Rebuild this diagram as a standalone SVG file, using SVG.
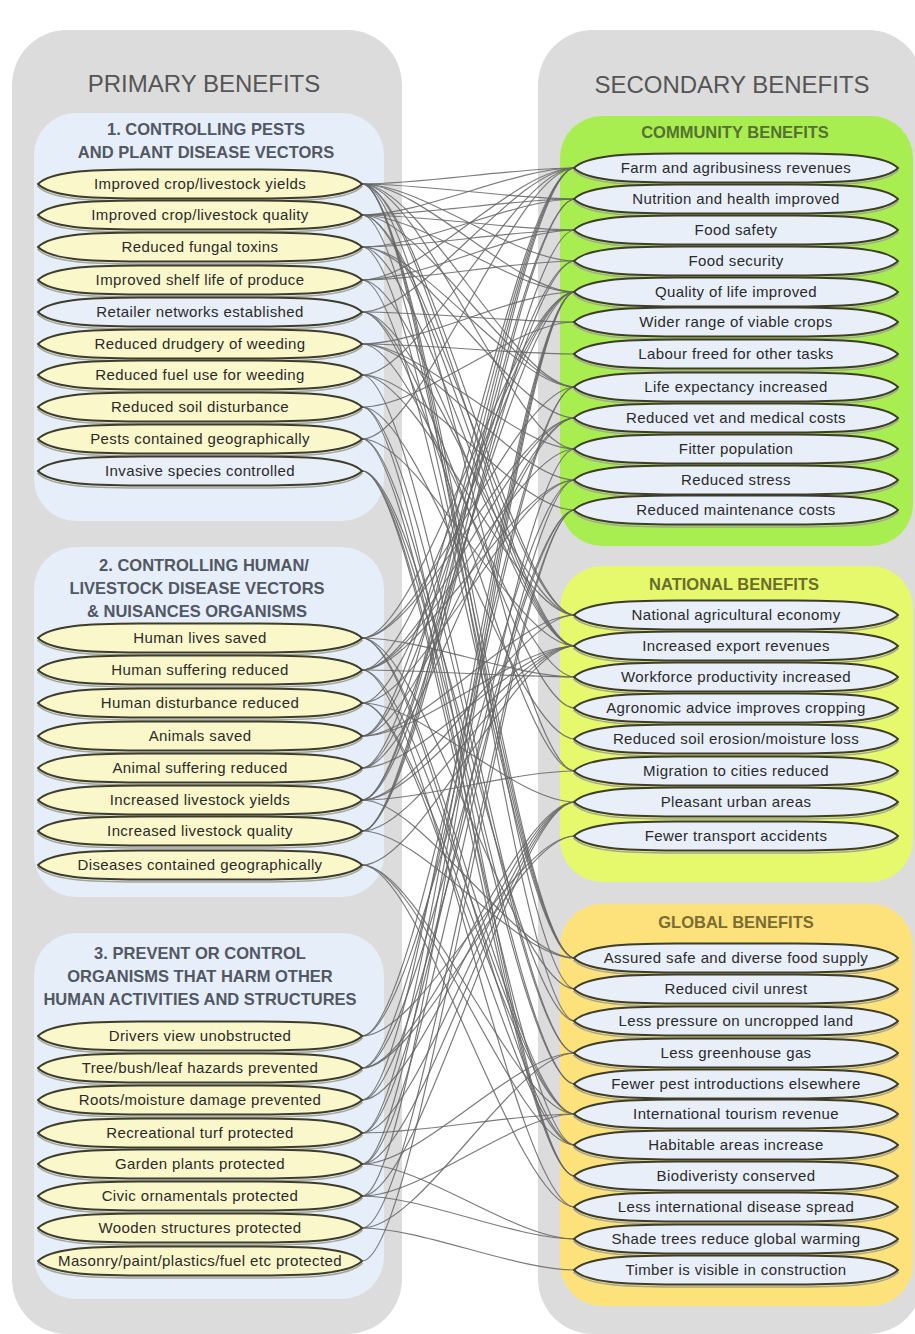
<svg xmlns="http://www.w3.org/2000/svg" xmlns:xlink="http://www.w3.org/1999/xlink" width="915" height="1334" viewBox="0 0 915 1334">
<style>
.hd{font-family:"Liberation Sans",Arial,sans-serif;font-size:24px;fill:#555555;text-anchor:middle}
.sh1{font-family:"Liberation Sans",Arial,sans-serif;font-size:16.5px;font-weight:bold;fill:#525762;text-anchor:middle}
.shc{font-family:"Liberation Sans",Arial,sans-serif;font-size:16.5px;font-weight:bold;fill:#56712f;text-anchor:middle}
.shn{font-family:"Liberation Sans",Arial,sans-serif;font-size:16.5px;font-weight:bold;fill:#6a6e2c;text-anchor:middle}
.shg{font-family:"Liberation Sans",Arial,sans-serif;font-size:16.5px;font-weight:bold;fill:#7a6c34;text-anchor:middle}
.t{font-family:"Liberation Sans",Arial,sans-serif;font-size:15px;letter-spacing:0.4px;fill:#2a2a2a;text-anchor:middle}
.nl{fill:#faf8ca;stroke:#3d3d2a;stroke-width:1.8}
.nr{fill:#e8eff9;stroke:#3d3d2a;stroke-width:1.8}
.sd{fill:none;stroke:#a5a596;stroke-width:1.6}
.c{fill:none;stroke:#646464;stroke-width:1.2;stroke-opacity:0.85}
</style>
<defs>
<path id="lens" d="M-162,0 C-150,-12 -115,-14.5 -60,-14.5 L60,-14.5 C115,-14.5 150,-12 162,0 C150,12 115,14.5 60,14.5 L-60,14.5 C-115,14.5 -150,12 -162,0 Z"/>
</defs>
<rect width="915" height="1334" fill="#ffffff"/>
<g id="panels">
<rect x="12" y="30" width="390" height="1304" rx="55" fill="#dcdcdc"/>
<rect x="538" y="30" width="385" height="1304" rx="55" fill="#dcdcdc"/>
<rect x="34" y="113" width="350" height="408" rx="42" fill="#e5eef9"/>
<rect x="34" y="547" width="350" height="350" rx="42" fill="#e5eef9"/>
<rect x="34" y="933" width="350" height="366" rx="42" fill="#e5eef9"/>
<rect x="560" y="116" width="353" height="430" rx="42" fill="#a9ee50"/>
<rect x="560" y="566" width="353" height="316" rx="42" fill="#e6f86c"/>
<rect x="560" y="904" width="353" height="402" rx="42" fill="#fde27c"/>
</g>
<g id="headers">
<text class="hd" x="204" y="92">PRIMARY BENEFITS</text>
<text class="hd" x="732" y="93">SECONDARY BENEFITS</text>
<text class="sh1" x="206" y="135">1. CONTROLLING PESTS</text>
<text class="sh1" x="206" y="158">AND PLANT DISEASE VECTORS</text>
<text class="sh1" x="204" y="571">2. CONTROLLING HUMAN/</text>
<text class="sh1" x="197" y="594">LIVESTOCK DISEASE VECTORS</text>
<text class="sh1" x="197" y="617">&amp; NUISANCES ORGANISMS</text>
<text class="sh1" x="200" y="959">3. PREVENT OR CONTROL</text>
<text class="sh1" x="200" y="982">ORGANISMS THAT HARM OTHER</text>
<text class="sh1" x="200" y="1005">HUMAN ACTIVITIES AND STRUCTURES</text>
<text class="shc" x="735" y="138">COMMUNITY BENEFITS</text>
<text class="shn" x="734" y="590">NATIONAL BENEFITS</text>
<text class="shg" x="736" y="928">GLOBAL BENEFITS</text>
</g>
<g id="connectors">
<path class="c" d="M362,184 C422,184 515,168 575,168"/>
<path class="c" d="M362,184 C422,184 515,199 575,199"/>
<path class="c" d="M362,184 C422,184 515,261 575,261"/>
<path class="c" d="M362,184 C422,184 515,292 575,292"/>
<path class="c" d="M362,184 C422,184 515,387 575,387"/>
<path class="c" d="M362,184 C422,184 515,615 575,615"/>
<path class="c" d="M362,184 C422,184 515,646 575,646"/>
<path class="c" d="M362,184 C422,184 515,958 575,958"/>
<path class="c" d="M362,184 C422,184 515,1021 575,1021"/>
<path class="c" d="M362,184 C422,184 515,989 575,989"/>
<path class="c" d="M362,184 C422,184 515,771 575,771"/>
<path class="c" d="M362,184 C422,184 515,449 575,449"/>
<path class="c" d="M362,215 C422,215 515,168 575,168"/>
<path class="c" d="M362,215 C422,215 515,199 575,199"/>
<path class="c" d="M362,215 C422,215 515,230 575,230"/>
<path class="c" d="M362,215 C422,215 515,646 575,646"/>
<path class="c" d="M362,215 C422,215 515,615 575,615"/>
<path class="c" d="M362,215 C422,215 515,958 575,958"/>
<path class="c" d="M362,215 C422,215 515,292 575,292"/>
<path class="c" d="M362,215 C422,215 515,387 575,387"/>
<path class="c" d="M362,247 C422,247 515,230 575,230"/>
<path class="c" d="M362,247 C422,247 515,199 575,199"/>
<path class="c" d="M362,247 C422,247 515,387 575,387"/>
<path class="c" d="M362,247 C422,247 515,418 575,418"/>
<path class="c" d="M362,247 C422,247 515,646 575,646"/>
<path class="c" d="M362,247 C422,247 515,958 575,958"/>
<path class="c" d="M362,280 C422,280 515,168 575,168"/>
<path class="c" d="M362,280 C422,280 515,261 575,261"/>
<path class="c" d="M362,280 C422,280 515,646 575,646"/>
<path class="c" d="M362,280 C422,280 515,958 575,958"/>
<path class="c" d="M362,280 C422,280 515,230 575,230"/>
<path class="c" d="M362,312 C422,312 515,168 575,168"/>
<path class="c" d="M362,312 C422,312 515,322 575,322"/>
<path class="c" d="M362,312 C422,312 515,615 575,615"/>
<path class="c" d="M362,312 C422,312 515,708 575,708"/>
<path class="c" d="M362,312 C422,312 515,771 575,771"/>
<path class="c" d="M362,344 C422,344 515,354 575,354"/>
<path class="c" d="M362,344 C422,344 515,292 575,292"/>
<path class="c" d="M362,344 C422,344 515,480 575,480"/>
<path class="c" d="M362,344 C422,344 515,677 575,677"/>
<path class="c" d="M362,344 C422,344 515,449 575,449"/>
<path class="c" d="M362,375 C422,375 515,168 575,168"/>
<path class="c" d="M362,375 C422,375 515,510 575,510"/>
<path class="c" d="M362,375 C422,375 515,1053 575,1053"/>
<path class="c" d="M362,375 C422,375 515,615 575,615"/>
<path class="c" d="M362,407 C422,407 515,739 575,739"/>
<path class="c" d="M362,407 C422,407 515,1053 575,1053"/>
<path class="c" d="M362,407 C422,407 515,1176 575,1176"/>
<path class="c" d="M362,407 C422,407 515,322 575,322"/>
<path class="c" d="M362,439 C422,439 515,1084 575,1084"/>
<path class="c" d="M362,439 C422,439 515,646 575,646"/>
<path class="c" d="M362,439 C422,439 515,1176 575,1176"/>
<path class="c" d="M362,439 C422,439 515,168 575,168"/>
<path class="c" d="M362,471 C422,471 515,1176 575,1176"/>
<path class="c" d="M362,471 C422,471 515,1084 575,1084"/>
<path class="c" d="M362,471 C422,471 515,1145 575,1145"/>
<path class="c" d="M362,471 C422,471 515,1021 575,1021"/>
<path class="c" d="M362,638 C422,638 515,387 575,387"/>
<path class="c" d="M362,638 C422,638 515,292 575,292"/>
<path class="c" d="M362,638 C422,638 515,677 575,677"/>
<path class="c" d="M362,638 C422,638 515,1114 575,1114"/>
<path class="c" d="M362,638 C422,638 515,989 575,989"/>
<path class="c" d="M362,638 C422,638 515,1145 575,1145"/>
<path class="c" d="M362,638 C422,638 515,418 575,418"/>
<path class="c" d="M362,670 C422,670 515,292 575,292"/>
<path class="c" d="M362,670 C422,670 515,418 575,418"/>
<path class="c" d="M362,670 C422,670 515,449 575,449"/>
<path class="c" d="M362,670 C422,670 515,480 575,480"/>
<path class="c" d="M362,670 C422,670 515,677 575,677"/>
<path class="c" d="M362,670 C422,670 515,1114 575,1114"/>
<path class="c" d="M362,670 C422,670 515,1207 575,1207"/>
<path class="c" d="M362,703 C422,703 515,292 575,292"/>
<path class="c" d="M362,703 C422,703 515,480 575,480"/>
<path class="c" d="M362,703 C422,703 515,1114 575,1114"/>
<path class="c" d="M362,703 C422,703 515,802 575,802"/>
<path class="c" d="M362,703 C422,703 515,1145 575,1145"/>
<path class="c" d="M362,736 C422,736 515,168 575,168"/>
<path class="c" d="M362,736 C422,736 515,261 575,261"/>
<path class="c" d="M362,736 C422,736 515,615 575,615"/>
<path class="c" d="M362,736 C422,736 515,418 575,418"/>
<path class="c" d="M362,736 C422,736 515,646 575,646"/>
<path class="c" d="M362,768 C422,768 515,418 575,418"/>
<path class="c" d="M362,768 C422,768 515,168 575,168"/>
<path class="c" d="M362,768 C422,768 515,292 575,292"/>
<path class="c" d="M362,768 C422,768 515,646 575,646"/>
<path class="c" d="M362,800 C422,800 515,168 575,168"/>
<path class="c" d="M362,800 C422,800 515,199 575,199"/>
<path class="c" d="M362,800 C422,800 515,261 575,261"/>
<path class="c" d="M362,800 C422,800 515,615 575,615"/>
<path class="c" d="M362,800 C422,800 515,646 575,646"/>
<path class="c" d="M362,800 C422,800 515,958 575,958"/>
<path class="c" d="M362,800 C422,800 515,771 575,771"/>
<path class="c" d="M362,831 C422,831 515,168 575,168"/>
<path class="c" d="M362,831 C422,831 515,199 575,199"/>
<path class="c" d="M362,831 C422,831 515,230 575,230"/>
<path class="c" d="M362,831 C422,831 515,646 575,646"/>
<path class="c" d="M362,831 C422,831 515,958 575,958"/>
<path class="c" d="M362,865 C422,865 515,1207 575,1207"/>
<path class="c" d="M362,865 C422,865 515,646 575,646"/>
<path class="c" d="M362,865 C422,865 515,1114 575,1114"/>
<path class="c" d="M362,865 C422,865 515,1145 575,1145"/>
<path class="c" d="M362,1036 C422,1036 515,836 575,836"/>
<path class="c" d="M362,1036 C422,1036 515,480 575,480"/>
<path class="c" d="M362,1036 C422,1036 515,387 575,387"/>
<path class="c" d="M362,1068 C422,1068 515,836 575,836"/>
<path class="c" d="M362,1068 C422,1068 515,510 575,510"/>
<path class="c" d="M362,1068 C422,1068 515,802 575,802"/>
<path class="c" d="M362,1068 C422,1068 515,387 575,387"/>
<path class="c" d="M362,1100 C422,1100 515,510 575,510"/>
<path class="c" d="M362,1100 C422,1100 515,802 575,802"/>
<path class="c" d="M362,1100 C422,1100 515,292 575,292"/>
<path class="c" d="M362,1133 C422,1133 515,292 575,292"/>
<path class="c" d="M362,1133 C422,1133 515,449 575,449"/>
<path class="c" d="M362,1133 C422,1133 515,802 575,802"/>
<path class="c" d="M362,1133 C422,1133 515,1114 575,1114"/>
<path class="c" d="M362,1164 C422,1164 515,292 575,292"/>
<path class="c" d="M362,1164 C422,1164 515,802 575,802"/>
<path class="c" d="M362,1164 C422,1164 515,480 575,480"/>
<path class="c" d="M362,1164 C422,1164 515,1239 575,1239"/>
<path class="c" d="M362,1164 C422,1164 515,1053 575,1053"/>
<path class="c" d="M362,1196 C422,1196 515,802 575,802"/>
<path class="c" d="M362,1196 C422,1196 515,1114 575,1114"/>
<path class="c" d="M362,1196 C422,1196 515,1239 575,1239"/>
<path class="c" d="M362,1196 C422,1196 515,292 575,292"/>
<path class="c" d="M362,1228 C422,1228 515,510 575,510"/>
<path class="c" d="M362,1228 C422,1228 515,1270 575,1270"/>
<path class="c" d="M362,1228 C422,1228 515,1053 575,1053"/>
<path class="c" d="M362,1261 C422,1261 515,510 575,510"/>
</g>
<g id="p1" transform="translate(200,184)"><use href="#lens" y="2.5" class="sd"/><use href="#lens" class="nl"/><text class="t" y="5">Improved crop/livestock yields</text></g>
<g id="p2" transform="translate(200,215)"><use href="#lens" y="2.5" class="sd"/><use href="#lens" class="nl"/><text class="t" y="5">Improved crop/livestock quality</text></g>
<g id="p3" transform="translate(200,247)"><use href="#lens" y="2.5" class="sd"/><use href="#lens" class="nl"/><text class="t" y="5">Reduced fungal toxins</text></g>
<g id="p4" transform="translate(200,280)"><use href="#lens" y="2.5" class="sd"/><use href="#lens" class="nl"/><text class="t" y="5">Improved shelf life of produce</text></g>
<g id="p5" transform="translate(200,312)"><use href="#lens" y="2.5" class="sd"/><use href="#lens" class="nr"/><text class="t" y="5">Retailer networks established</text></g>
<g id="p6" transform="translate(200,344)"><use href="#lens" y="2.5" class="sd"/><use href="#lens" class="nl"/><text class="t" y="5">Reduced drudgery of weeding</text></g>
<g id="p7" transform="translate(200,375)"><use href="#lens" y="2.5" class="sd"/><use href="#lens" class="nl"/><text class="t" y="5">Reduced fuel use for weeding</text></g>
<g id="p8" transform="translate(200,407)"><use href="#lens" y="2.5" class="sd"/><use href="#lens" class="nl"/><text class="t" y="5">Reduced soil disturbance</text></g>
<g id="p9" transform="translate(200,439)"><use href="#lens" y="2.5" class="sd"/><use href="#lens" class="nl"/><text class="t" y="5">Pests contained geographically</text></g>
<g id="p10" transform="translate(200,471)"><use href="#lens" y="2.5" class="sd"/><use href="#lens" class="nr"/><text class="t" y="5">Invasive species controlled</text></g>
<g id="p11" transform="translate(200,638)"><use href="#lens" y="2.5" class="sd"/><use href="#lens" class="nl"/><text class="t" y="5">Human lives saved</text></g>
<g id="p12" transform="translate(200,670)"><use href="#lens" y="2.5" class="sd"/><use href="#lens" class="nl"/><text class="t" y="5">Human suffering reduced</text></g>
<g id="p13" transform="translate(200,703)"><use href="#lens" y="2.5" class="sd"/><use href="#lens" class="nl"/><text class="t" y="5">Human disturbance reduced</text></g>
<g id="p14" transform="translate(200,736)"><use href="#lens" y="2.5" class="sd"/><use href="#lens" class="nl"/><text class="t" y="5">Animals saved</text></g>
<g id="p15" transform="translate(200,768)"><use href="#lens" y="2.5" class="sd"/><use href="#lens" class="nl"/><text class="t" y="5">Animal suffering reduced</text></g>
<g id="p16" transform="translate(200,800)"><use href="#lens" y="2.5" class="sd"/><use href="#lens" class="nl"/><text class="t" y="5">Increased livestock yields</text></g>
<g id="p17" transform="translate(200,831)"><use href="#lens" y="2.5" class="sd"/><use href="#lens" class="nl"/><text class="t" y="5">Increased livestock quality</text></g>
<g id="p18" transform="translate(200,865)"><use href="#lens" y="2.5" class="sd"/><use href="#lens" class="nl"/><text class="t" y="5">Diseases contained geographically</text></g>
<g id="p19" transform="translate(200,1036)"><use href="#lens" y="2.5" class="sd"/><use href="#lens" class="nl"/><text class="t" y="5">Drivers view unobstructed</text></g>
<g id="p20" transform="translate(200,1068)"><use href="#lens" y="2.5" class="sd"/><use href="#lens" class="nl"/><text class="t" y="5">Tree/bush/leaf hazards prevented</text></g>
<g id="p21" transform="translate(200,1100)"><use href="#lens" y="2.5" class="sd"/><use href="#lens" class="nl"/><text class="t" y="5">Roots/moisture damage prevented</text></g>
<g id="p22" transform="translate(200,1133)"><use href="#lens" y="2.5" class="sd"/><use href="#lens" class="nl"/><text class="t" y="5">Recreational turf protected</text></g>
<g id="p23" transform="translate(200,1164)"><use href="#lens" y="2.5" class="sd"/><use href="#lens" class="nl"/><text class="t" y="5">Garden plants protected</text></g>
<g id="p24" transform="translate(200,1196)"><use href="#lens" y="2.5" class="sd"/><use href="#lens" class="nl"/><text class="t" y="5">Civic ornamentals protected</text></g>
<g id="p25" transform="translate(200,1228)"><use href="#lens" y="2.5" class="sd"/><use href="#lens" class="nl"/><text class="t" y="5">Wooden structures protected</text></g>
<g id="p26" transform="translate(200,1261)"><use href="#lens" y="2.5" class="sd"/><use href="#lens" class="nl"/><text class="t" y="5">Masonry/paint/plastics/fuel etc protected</text></g>
<g id="s1" transform="translate(736,168)"><use href="#lens" y="2.5" class="sd"/><use href="#lens" class="nr"/><text class="t" y="5">Farm and agribusiness revenues</text></g>
<g id="s2" transform="translate(736,199)"><use href="#lens" y="2.5" class="sd"/><use href="#lens" class="nr"/><text class="t" y="5">Nutrition and health improved</text></g>
<g id="s3" transform="translate(736,230)"><use href="#lens" y="2.5" class="sd"/><use href="#lens" class="nr"/><text class="t" y="5">Food safety</text></g>
<g id="s4" transform="translate(736,261)"><use href="#lens" y="2.5" class="sd"/><use href="#lens" class="nr"/><text class="t" y="5">Food security</text></g>
<g id="s5" transform="translate(736,292)"><use href="#lens" y="2.5" class="sd"/><use href="#lens" class="nr"/><text class="t" y="5">Quality of life improved</text></g>
<g id="s6" transform="translate(736,322)"><use href="#lens" y="2.5" class="sd"/><use href="#lens" class="nr"/><text class="t" y="5">Wider range of viable crops</text></g>
<g id="s7" transform="translate(736,354)"><use href="#lens" y="2.5" class="sd"/><use href="#lens" class="nr"/><text class="t" y="5">Labour freed for other tasks</text></g>
<g id="s8" transform="translate(736,387)"><use href="#lens" y="2.5" class="sd"/><use href="#lens" class="nr"/><text class="t" y="5">Life expectancy increased</text></g>
<g id="s9" transform="translate(736,418)"><use href="#lens" y="2.5" class="sd"/><use href="#lens" class="nr"/><text class="t" y="5">Reduced vet and medical costs</text></g>
<g id="s10" transform="translate(736,449)"><use href="#lens" y="2.5" class="sd"/><use href="#lens" class="nr"/><text class="t" y="5">Fitter population</text></g>
<g id="s11" transform="translate(736,480)"><use href="#lens" y="2.5" class="sd"/><use href="#lens" class="nr"/><text class="t" y="5">Reduced stress</text></g>
<g id="s12" transform="translate(736,510)"><use href="#lens" y="2.5" class="sd"/><use href="#lens" class="nr"/><text class="t" y="5">Reduced maintenance costs</text></g>
<g id="n1" transform="translate(736,615)"><use href="#lens" y="2.5" class="sd"/><use href="#lens" class="nr"/><text class="t" y="5">National agricultural economy</text></g>
<g id="n2" transform="translate(736,646)"><use href="#lens" y="2.5" class="sd"/><use href="#lens" class="nr"/><text class="t" y="5">Increased export revenues</text></g>
<g id="n3" transform="translate(736,677)"><use href="#lens" y="2.5" class="sd"/><use href="#lens" class="nr"/><text class="t" y="5">Workforce productivity increased</text></g>
<g id="n4" transform="translate(736,708)"><use href="#lens" y="2.5" class="sd"/><use href="#lens" class="nr"/><text class="t" y="5">Agronomic advice improves cropping</text></g>
<g id="n5" transform="translate(736,739)"><use href="#lens" y="2.5" class="sd"/><use href="#lens" class="nr"/><text class="t" y="5">Reduced soil erosion/moisture loss</text></g>
<g id="n6" transform="translate(736,771)"><use href="#lens" y="2.5" class="sd"/><use href="#lens" class="nr"/><text class="t" y="5">Migration to cities reduced</text></g>
<g id="n7" transform="translate(736,802)"><use href="#lens" y="2.5" class="sd"/><use href="#lens" class="nr"/><text class="t" y="5">Pleasant urban areas</text></g>
<g id="n8" transform="translate(736,836)"><use href="#lens" y="2.5" class="sd"/><use href="#lens" class="nr"/><text class="t" y="5">Fewer transport accidents</text></g>
<g id="g1" transform="translate(736,958)"><use href="#lens" y="2.5" class="sd"/><use href="#lens" class="nr"/><text class="t" y="5">Assured safe and diverse food supply</text></g>
<g id="g2" transform="translate(736,989)"><use href="#lens" y="2.5" class="sd"/><use href="#lens" class="nr"/><text class="t" y="5">Reduced civil unrest</text></g>
<g id="g3" transform="translate(736,1021)"><use href="#lens" y="2.5" class="sd"/><use href="#lens" class="nr"/><text class="t" y="5">Less pressure on uncropped land</text></g>
<g id="g4" transform="translate(736,1053)"><use href="#lens" y="2.5" class="sd"/><use href="#lens" class="nr"/><text class="t" y="5">Less greenhouse gas</text></g>
<g id="g5" transform="translate(736,1084)"><use href="#lens" y="2.5" class="sd"/><use href="#lens" class="nr"/><text class="t" y="5">Fewer pest introductions elsewhere</text></g>
<g id="g6" transform="translate(736,1114)"><use href="#lens" y="2.5" class="sd"/><use href="#lens" class="nr"/><text class="t" y="5">International tourism revenue</text></g>
<g id="g7" transform="translate(736,1145)"><use href="#lens" y="2.5" class="sd"/><use href="#lens" class="nr"/><text class="t" y="5">Habitable areas increase</text></g>
<g id="g8" transform="translate(736,1176)"><use href="#lens" y="2.5" class="sd"/><use href="#lens" class="nr"/><text class="t" y="5">Biodiveristy conserved</text></g>
<g id="g9" transform="translate(736,1207)"><use href="#lens" y="2.5" class="sd"/><use href="#lens" class="nr"/><text class="t" y="5">Less international disease spread</text></g>
<g id="g10" transform="translate(736,1239)"><use href="#lens" y="2.5" class="sd"/><use href="#lens" class="nr"/><text class="t" y="5">Shade trees reduce global warming</text></g>
<g id="g11" transform="translate(736,1270)"><use href="#lens" y="2.5" class="sd"/><use href="#lens" class="nr"/><text class="t" y="5">Timber is visible in construction</text></g>
</svg>
